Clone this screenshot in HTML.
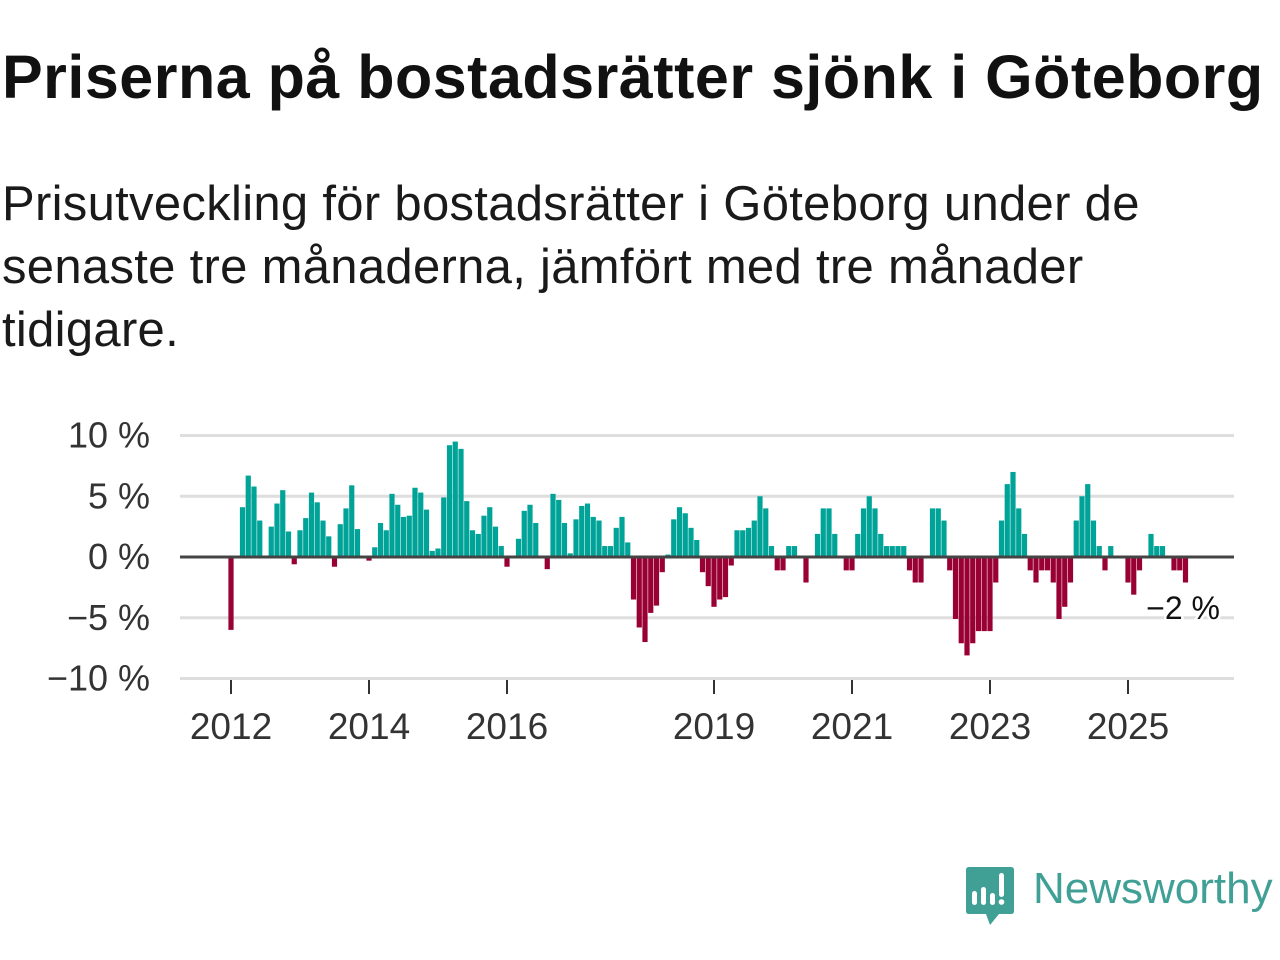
<!DOCTYPE html>
<html><head><meta charset="utf-8">
<style>
body{margin:0;width:1280px;height:960px;background:#fff;overflow:hidden;font-family:"Liberation Sans",sans-serif;}
#title{position:absolute;left:2px;top:42px;font-size:61px;font-weight:bold;color:#111;white-space:nowrap;letter-spacing:0.5px}
#sub{position:absolute;left:2px;top:173px;font-size:49px;line-height:63px;color:#1a1a1a;white-space:nowrap;letter-spacing:0.3px}
svg{position:absolute;left:0;top:0}
</style></head><body>
<div id="title">Priserna på bostadsrätter sjönk i Göteborg</div>
<div id="sub">Prisutveckling för bostadsrätter i Göteborg under de<br>senaste tre månaderna, jämfört med tre månader<br>tidigare.</div>
<svg id="chart" width="1280" height="960"></svg>
<script>
const values = [-6,0,4.1,6.7,5.8,3.0,0,2.5,4.4,5.5,2.1,-0.6,2.2,3.2,5.3,4.5,3.0,1.7,-0.8,2.7,4.0,5.9,2.3,0,-0.3,0.8,2.8,2.2,5.2,4.3,3.3,3.4,5.7,5.3,3.9,0.5,0.7,4.9,9.2,9.5,8.9,4.6,2.2,1.9,3.4,4.1,2.5,0.9,-0.8,0,1.5,3.8,4.3,2.8,0,-1.0,5.2,4.7,2.8,0.3,3.1,4.2,4.4,3.3,3.0,0.9,0.9,2.4,3.3,1.2,-3.5,-5.8,-7.0,-4.6,-4.0,-1.25,0.2,3.1,4.1,3.6,2.4,1.4,-1.25,-2.4,-4.1,-3.5,-3.3,-0.7,2.2,2.2,2.4,3.0,5.0,4.0,0.9,-1.1,-1.1,0.9,0.9,0,-2.1,0,1.9,4.0,4.0,1.9,0,-1.1,-1.1,1.9,4.0,5.0,4.0,1.9,0.9,0.9,0.9,0.9,-1.1,-2.1,-2.1,0,4.0,4.0,3.0,-1.1,-5.1,-7.1,-8.1,-7.1,-6.1,-6.1,-6.1,-2.1,3.0,6.0,7.0,4.0,1.9,-1.1,-2.1,-1.1,-1.1,-2.1,-5.1,-4.1,-2.1,3.0,5.0,6.0,3.0,0.9,-1.1,0.9,0,0,-2.1,-3.1,-1.1,0,1.9,0.9,0.9,0,-1.1,-1.1,-2.1];
const yTicks = [10,5,0,-5,-10];
const yTickLabels = ["10 %","5 %","0 %","\u22125 %","\u221210 %"];
const xYears = [2012,2014,2016,2019,2021,2023,2025];
const startYear = 2012;
const lastLabel = "\u22122 %";

const NS="http://www.w3.org/2000/svg";
const svg=document.getElementById('chart');
function y(v){return 557-v*12.15;}
function x(i){return 231+i*5.75;}
function mk(t,a){const e=document.createElementNS(NS,t);for(const k in a)e.setAttribute(k,a[k]);svg.appendChild(e);return e;}
yTicks.forEach((t,k)=>{
  if(t!==0){const g=mk('line',{x1:180,x2:1234,y1:y(t),y2:y(t),stroke:'#dedede','stroke-width':3});
  
  }
  const l=mk('text',{x:150,y:y(t)+12,'text-anchor':'end','font-size':36,fill:'#333','font-family':'Liberation Sans, sans-serif'});
  l.textContent=yTickLabels[k];
  
  
});
values.forEach((v,i)=>{
  if(v===0)return;
  const top=Math.min(y(v),y(0)), h=Math.abs(y(v)-y(0));
  const r=mk('rect',{x:x(i)-2.6,y:top,width:5.2,height:h,fill:v>0?'#00a398':'#990033'});
  
  
});
const ax=mk('line',{x1:180,x2:1234,y1:y(0),y2:y(0),stroke:'#444','stroke-width':3});


xYears.forEach(yr=>{
  const xi=x((yr-startYear)*12);
  const t=mk('line',{x1:xi,x2:xi,y1:680,y2:694,stroke:'#333','stroke-width':2});
  
  
  const l=mk('text',{x:xi,y:739,'text-anchor':'middle','font-size':37,fill:'#333','font-family':'Liberation Sans, sans-serif'});
  l.textContent=yr;
  
  
});
const ll=mk('text',{x:1220,y:619,'text-anchor':'end','font-size':32,fill:'#111',stroke:'#fff','stroke-width':5,'paint-order':'stroke','font-family':'Liberation Sans, sans-serif'});
ll.textContent=lastLabel;


</script>
<svg width="1280" height="960" style="pointer-events:none">
  <path d="M969 867 H1011 Q1014 867 1014 870 V911 Q1014 914 1011 914 H999 L990 925 L986 914 H969 Q966 914 966 911 V870 Q966 867 969 867 Z" fill="#40a096"/>
  <rect x="972" y="891" width="5" height="14" rx="2.5" fill="#fff"/>
  <rect x="981" y="887" width="5" height="18" rx="2.5" fill="#fff"/>
  <rect x="990" y="893" width="5" height="12" rx="2.5" fill="#fff"/>
  <rect x="999" y="873" width="5" height="24" rx="2.5" fill="#fff"/>
  <circle cx="1001.5" cy="902" r="2.8" fill="#fff"/>
  <text x="1033" y="903" font-size="44" fill="#40a096" font-family="Liberation Sans, sans-serif">Newsworthy</text>
</svg>
</body></html>
